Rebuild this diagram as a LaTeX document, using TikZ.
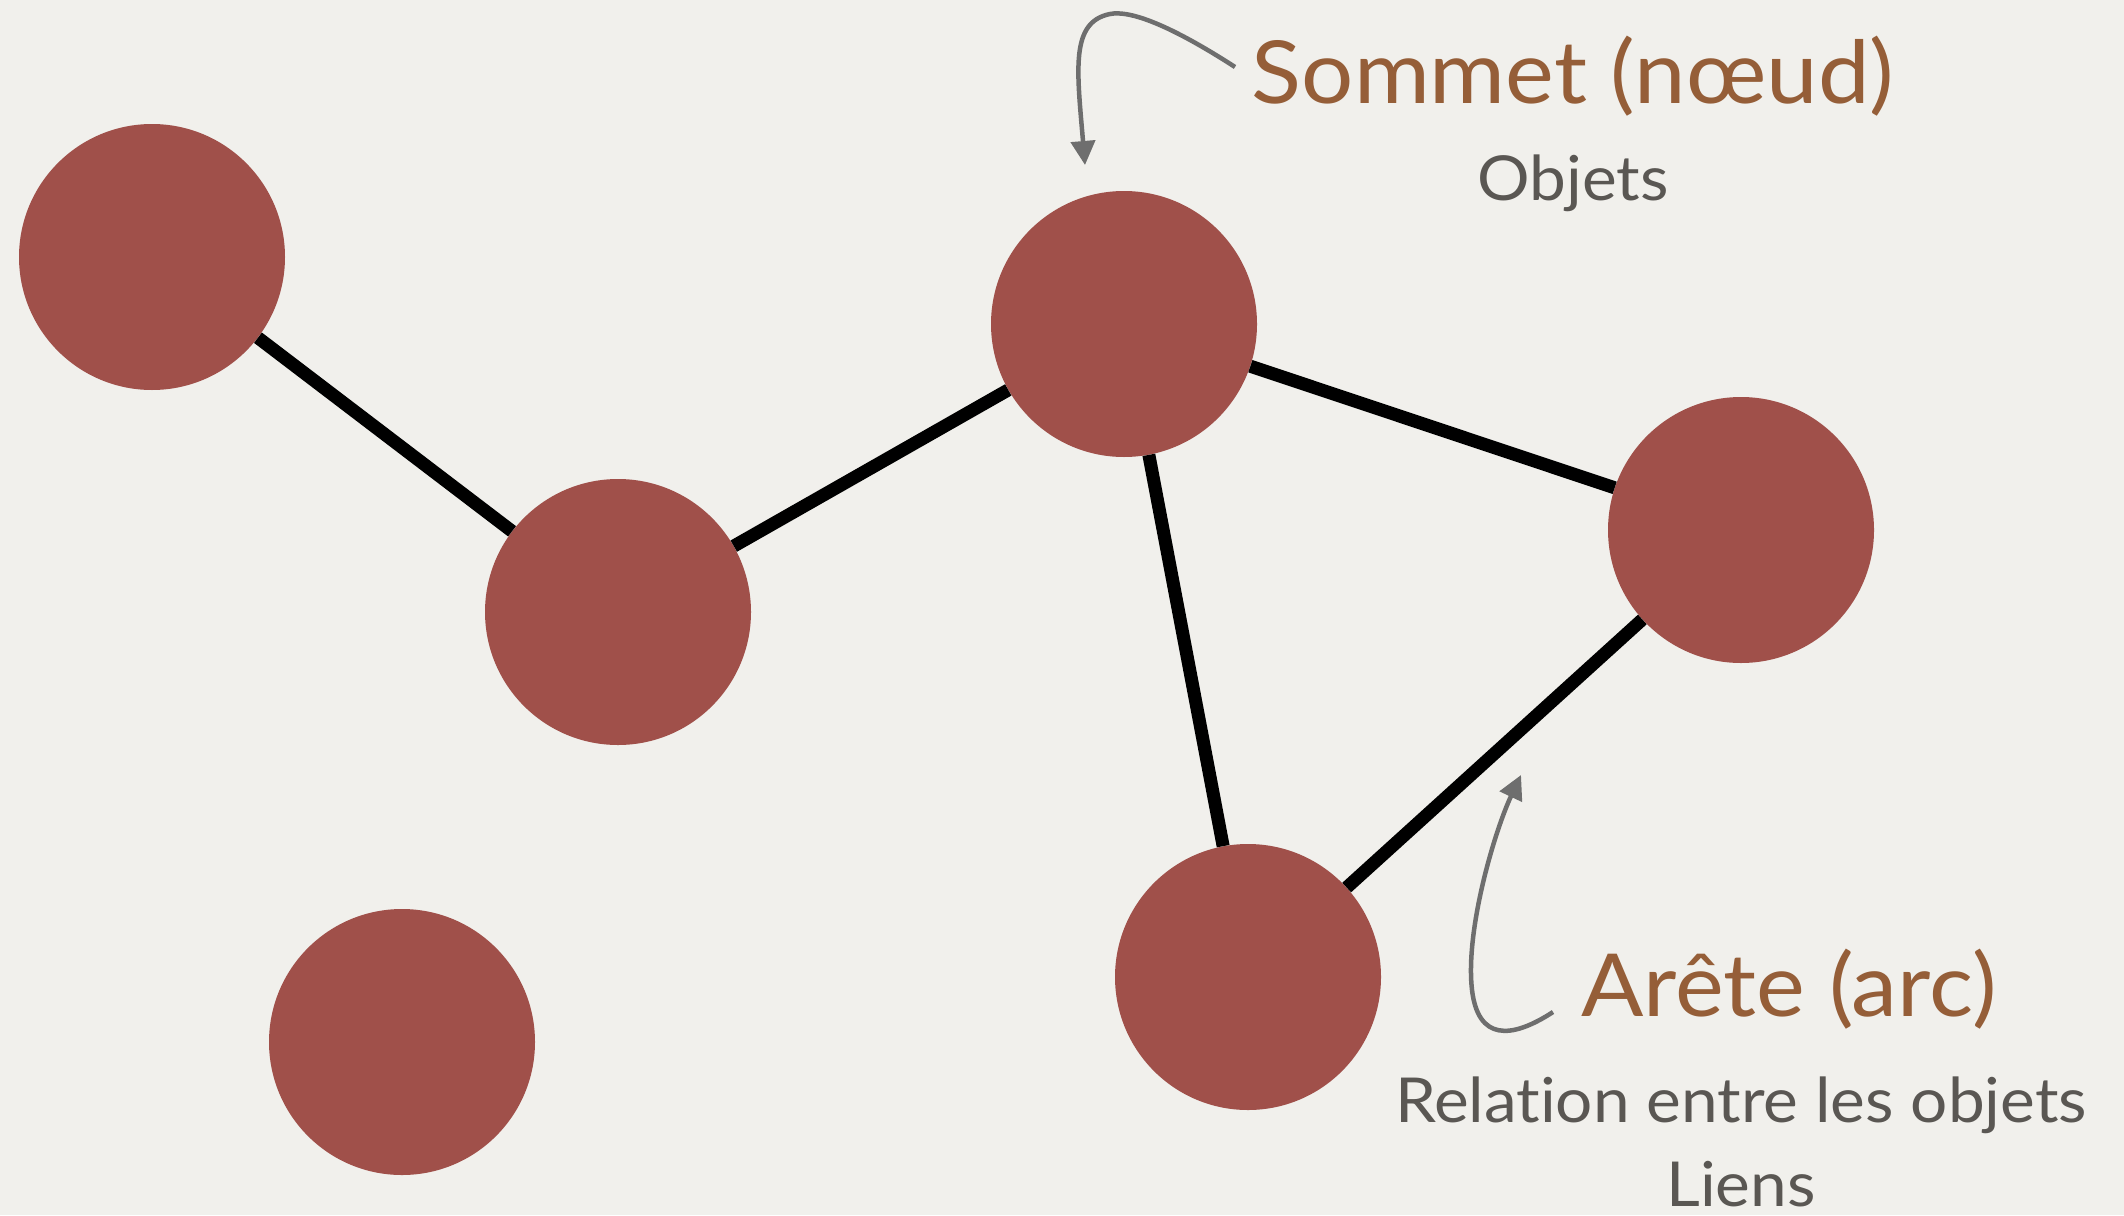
\documentclass[tikz,border=0pt]{standalone}
\usepackage{fontspec}
\setmainfont{Lato}[FakeStretch=1.06,Ligatures=NoCommon]
\usepackage{tikz}
\usetikzlibrary{arrows,arrows.meta}
\definecolor{fond}{HTML}{F1F0EC}
\definecolor{sommet}{HTML}{A0504A}
\definecolor{titre}{HTML}{955E38}
\definecolor{gris}{HTML}{5A5753}
\definecolor{fleche}{HTML}{6E6E6E}

\begin{document}
\begin{tikzpicture}[x=1pt,y=-1pt,
  noeud/.style={circle,fill=sommet,minimum size=266pt,inner sep=0pt},
  arete/.style={line width=13pt,black},
  renvoi/.style={line width=4.5pt,fleche,-{Triangle[length=24pt,width=24pt]}},
  grand/.style={text=titre,font=\fontsize{87}{90}\selectfont,inner sep=0pt,anchor=base},
  petit/.style={text=gris,font=\fontsize{62}{66}\selectfont,inner sep=0pt,anchor=base}]
\fill[fond] (0,0) rectangle (2124,1215);
\useasboundingbox (0,0) rectangle (2124,1215);

% sommets
\node[noeud] (a) at (152,257) {};
\node[noeud] (b) at (618,612) {};
\node[noeud] (c) at (1124,324) {};
\node[noeud] (d) at (1741,530) {};
\node[noeud] (e) at (1248,977) {};
\node[noeud] (f) at (402,1042) {};

% aretes
\path[arete]
(a) edge (b)
(b) edge (c)
(c) edge (d)
edge (e)
(d) edge (e)
;

% legendes
\node[grand] (t1) at (1573,103) {Sommet (nœud)};
\node[petit] (t2) at (1573,200) {Objets};
\node[grand] (t3) at (1789,1016) {Arête (arc)};
\node[petit] (t4) at (1741,1122) {Relation entre les objets};
\node[petit] (t5) at (1741,1206) {Liens};

% fleches de renvoi
\coordinate (p1) at (1235,67);
\coordinate (q1) at (1085,165);
\coordinate (p2) at (1553,1012);
\coordinate (q2) at (1521,775);
\draw[renvoi] (p1) .. controls (1170,25) and (1130,10) .. (1110,14)
  .. controls (1070,22) and (1077,70) .. (q1);
\draw[renvoi] (p2) .. controls (1510,1040) and (1478,1040) .. (1472,990)
  .. controls (1465,930) and (1495,830) .. (q2);
\end{tikzpicture}
\end{document}
